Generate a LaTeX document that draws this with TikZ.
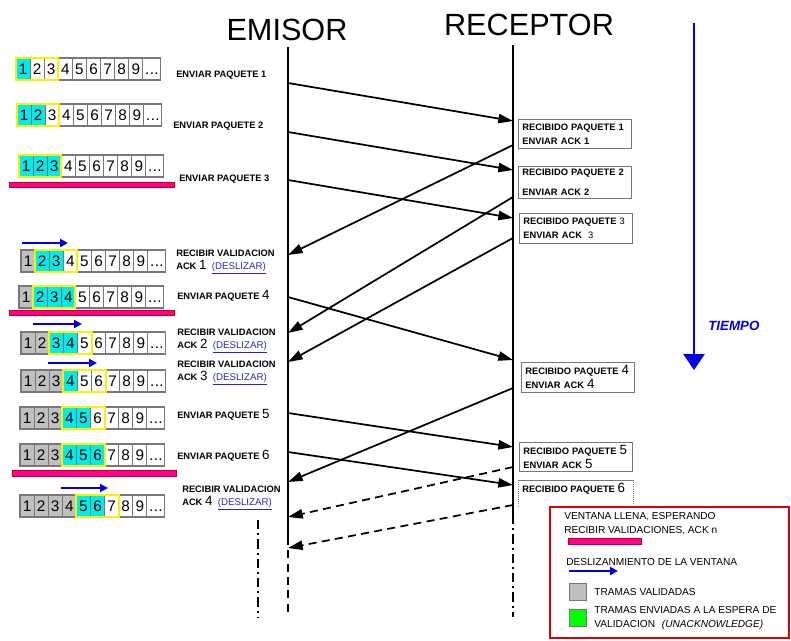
\documentclass[tikz,border=0pt]{standalone}
\usepackage{fontspec}
\setmainfont{Liberation Sans}
\usepackage{xcolor}
\usetikzlibrary{arrows.meta, positioning}
\definecolor{celdacian}{RGB}{0,235,235}
\definecolor{celdagris}{RGB}{192,192,192}
\definecolor{bordegris}{RGB}{120,120,120}
\definecolor{ventamarillo}{RGB}{250,240,0}
\definecolor{barrarosa}{RGB}{255,0,150}
\definecolor{azul}{RGB}{0,0,225}
\definecolor{enlace}{RGB}{40,40,190}
\definecolor{verde}{RGB}{0,255,0}
\definecolor{rojo}{RGB}{225,0,0}

\newcommand{\gnum}[1]{{\fontsize{10}{10}\selectfont\mdseries #1}}
\newcommand{\desliza}{{\fontsize{7.3}{9}\selectfont\mdseries\color{enlace}\underline{(DESLIZAR)}}}

% one row of frames: name, x, y, gray cells, last cyan cell, first window cell
\newcommand{\fila}[6]{%
  \begin{scope}[shift={(#2,#3)}]
    \coordinate (#1) at (0,0);
    \foreach \i in {1,...,9}{
      \ifnum\i>#4\relax
        \ifnum\i<#6\relax\def\colcelda{white}\else
          \ifnum\i>#5\relax\def\colcelda{white}\else\def\colcelda{celdacian}\fi\fi
      \else\def\colcelda{celdagris}\fi
      \filldraw[celda, fill=\colcelda] ({(\i-1)*14.1},0) rectangle ++(14.1,22);
      \node[digito] at ({(\i-0.5)*14.1},11) {\i};
    }
    \draw[celda] (126.9,0) rectangle ++(18,22);
    \node[digito] at (135.9,11) {.\kern0.3pt.\kern0.3pt.};
    \draw[ventana] ({(#6-1)*14.1},0) rectangle ++(42.3,22);
  \end{scope}}

\begin{document}
\begin{tikzpicture}[
    x=0.75pt, y=-0.75pt,
    celda/.style={draw=bordegris, line width=0.8pt},
    digito/.style={font=\fontsize{11.5}{12}\selectfont, inner sep=0pt, text height=8.2pt, text depth=0pt},
    ventana/.style={draw=ventamarillo, line width=1.5pt},
    barra/.style={draw=red!80!black, fill=barrarosa, line width=0.5pt},
    desliz/.style={-{Triangle[length=6pt,width=6pt]}, azul, line width=1.6pt},
    etiq/.style={font=\fontsize{7}{9.4}\selectfont\bfseries, align=left, inner sep=0pt, anchor=west},
    caja/.style={draw=bordegris, line width=0.6pt, anchor=north west, align=left, inner xsep=3pt, inner ysep=0pt, text width=79pt, font=\fontsize{7}{10.5}\selectfont\bfseries},
    leytxt/.style={font=\fontsize{7.6}{10.5}\selectfont, align=left, inner sep=0pt, anchor=west},
    titulo/.style={font=\fontsize{23}{24}\selectfont},
    vida/.style={line width=1.4pt},
    flecha/.style={-{Triangle[length=11pt,width=7pt]}, line width=1.3pt},
    flechadis/.style={flecha, dash pattern=on 6pt off 4pt},
    tiempo/.style={-{Triangle[length=12pt,width=16pt]}, azul, line width=1.2pt}
]
    \useasboundingbox (0,0) rectangle (791,641);

    % Titles
    \node[titulo] (emisor) at (287,30) {EMISOR};
    \node[titulo] (receptor) at (529,25) {RECEPTOR};

    % Lifelines
    \coordinate (etop) at (288,47);
    \coordinate (emid) at (288,537);
    \coordinate (ebot) at (288,615);
    \coordinate (rtop) at (513,45);
    \coordinate (rmid) at (513,515);
    \coordinate (rbot) at (513,617);
    \coordinate (xtop) at (258,520);
    \coordinate (xbot) at (258,618);
    \draw[vida] (etop) -- (emid);
    \draw[vida, dash pattern=on 6pt off 4pt] (emid) -- (ebot);
    \draw[vida] (rtop) -- (rmid);
    \draw[vida, dash pattern=on 7pt off 3pt on 1.5pt off 3pt] (rmid) -- (rbot);
    \draw[vida, dash pattern=on 7pt off 3pt on 1.5pt off 3pt] (xtop) -- (xbot);

    % Packets and acks
    \foreach \n/\ye/\yr in {1/83/121, 2/132/170, 3/180/218, 4/297/360, 5/413/447, 6/452/485}{
        \coordinate (ep\n) at (288,\ye);
        \coordinate (rp\n) at (513,\yr);
    }
    \foreach \n/\yr/\ye in {1/145/255, 2/197/333, 3/238/362, 4/388/482, 5/467/517, 6/505/548}{
        \coordinate (ra\n) at (513,\yr);
        \coordinate (ea\n) at (288,\ye);
    }
    \foreach \n in {1,...,6}
        \draw[flecha] (ep\n) -- (rp\n);
    \foreach \n in {1,...,4}
        \draw[flecha] (ra\n) -- (ea\n);
    \draw[flechadis] (ra5) -- (ea5);
    \draw[flechadis] (ra6) -- (ea6);

    % Sender windows
    \fila{f1}{16}{58}{0}{1}{1}
    \fila{f2}{17}{104}{0}{2}{1}
    \fila{f3}{19}{155}{0}{3}{1}
    \fila{f4}{21}{250}{1}{3}{2}
    \fila{f5}{19}{286}{1}{4}{2}
    \fila{f6}{21}{332}{2}{4}{3}
    \fila{f7}{21}{370}{3}{4}{4}
    \fila{f8}{20}{407}{3}{5}{4}
    \fila{f9}{20}{444}{3}{6}{4}
    \fila{f10}{20}{495}{4}{6}{5}

    % Full window bars
    \draw[barra] (9,182) rectangle (174,187);
    \draw[barra] (9,310) rectangle (174,315);
    \draw[barra] (12,470) rectangle (176,476);

    % Sliding arrows
    \draw[desliz] (22,243) -- (68,243);
    \draw[desliz] (33,324) -- (82,324);
    \draw[desliz] (48,363) -- (97,363);
    \draw[desliz] (61,488) -- (108,488);

    % Sender labels
    \node[etiq] (l1) at (176,75) {ENVIAR PAQUETE 1};
    \node[etiq] (l2) at (173,126) {ENVIAR PAQUETE 2};
    \node[etiq] (l3) at (179,179) {ENVIAR PAQUETE 3};
    \node[etiq] (l4) at (176,262) {RECIBIR VALIDACION\\ACK \gnum{1}\hspace{4pt}\desliza};
    \node[etiq] (l5) at (177,296) {ENVIAR PAQUETE \gnum{4}};
    \node[etiq] (l6) at (177,341) {RECIBIR VALIDACION\\ACK \gnum{2}\hspace{4pt}\desliza};
    \node[etiq] (l7) at (177,373) {RECIBIR VALIDACION\\ACK \gnum{3}\hspace{4pt}\desliza};
    \node[etiq] (l8) at (177,415) {ENVIAR PAQUETE \gnum{5}};
    \node[etiq] (l9) at (177,456) {ENVIAR PAQUETE \gnum{6}};
    \node[etiq] (l10) at (182,498) {RECIBIR VALIDACION\\ACK \gnum{4}\hspace{4pt}\desliza};

    % Receiver boxes
    \node[caja, minimum height=21.75pt] (rb1) at (518,119) {RECIBIDO PAQUETE 1\\ENVIAR ACK 1};
    \node[caja, minimum height=24pt] (rb2) at (518,166) {RECIBIDO PAQUETE 2\\[4pt]ENVIAR ACK 2};
    \node[caja, minimum height=22.5pt] (rb3) at (519,213) {RECIBIDO PAQUETE {\mdseries 3}\\ENVIAR ACK \ {\mdseries 3}};
    \node[caja, minimum height=22.5pt] (rb4) at (521,362) {RECIBIDO PAQUETE \gnum{4}\\ENVIAR ACK \gnum{4}};
    \node[caja, minimum height=21.75pt] (rb5) at (519,442) {RECIBIDO PAQUETE \gnum{5}\\ENVIAR ACK \gnum{5}};
    \node[etiq] (rb6) at (522,489) {RECIBIDO PAQUETE \gnum{6}};
    \draw[bordegris, line width=0.6pt] (518,480) -- (633,480);
    \draw[bordegris, line width=0.6pt, densely dotted] (518,480) -- (518,506);
    \draw[bordegris, line width=0.6pt, densely dotted] (633,480) -- (633,506);

    % Time axis
    \coordinate (t0) at (694,23);
    \coordinate (t1) at (694,370);
    \draw[tiempo] (t0) -- (t1);
    \node[font=\fontsize{10}{10}\selectfont\bfseries\itshape, text=azul, anchor=west, inner sep=0pt] (tiempo) at (708,326) {TIEMPO};

    % Legend
    \node[draw=rojo, line width=1.8pt, fill=white, minimum width=179pt, minimum height=98pt, anchor=north west] (ley) at (549,506) {};
    \node[leytxt] (lt1) at (564,524) {VENTANA LLENA, ESPERANDO\\RECIBIR VALIDACIONES, ACK n};
    \draw[barra] (568,538) rectangle (641,544);
    \node[leytxt] (lt2) at (566,562) {DESLIZANMIENTO DE LA VENTANA};
    \draw[desliz] (569,571) -- (618,571);
    \node[draw=bordegris, fill=celdagris, minimum size=12.5pt, inner sep=0pt, anchor=north west] (lgris) at (569,583) {};
    \node[leytxt, right=6pt of lgris] (lt3) {TRAMAS VALIDADAS};
    \node[draw=bordegris, fill=verde, minimum size=12.5pt, inner sep=0pt, anchor=north west] (lverde) at (569,609) {};
    \node[leytxt, right=6pt of lverde] (lt4) {TRAMAS ENVIADAS A LA ESPERA DE\\VALIDACION \hspace{3pt}\textit{(UNACKNOWLEDGE)}};
\end{tikzpicture}
\end{document}
